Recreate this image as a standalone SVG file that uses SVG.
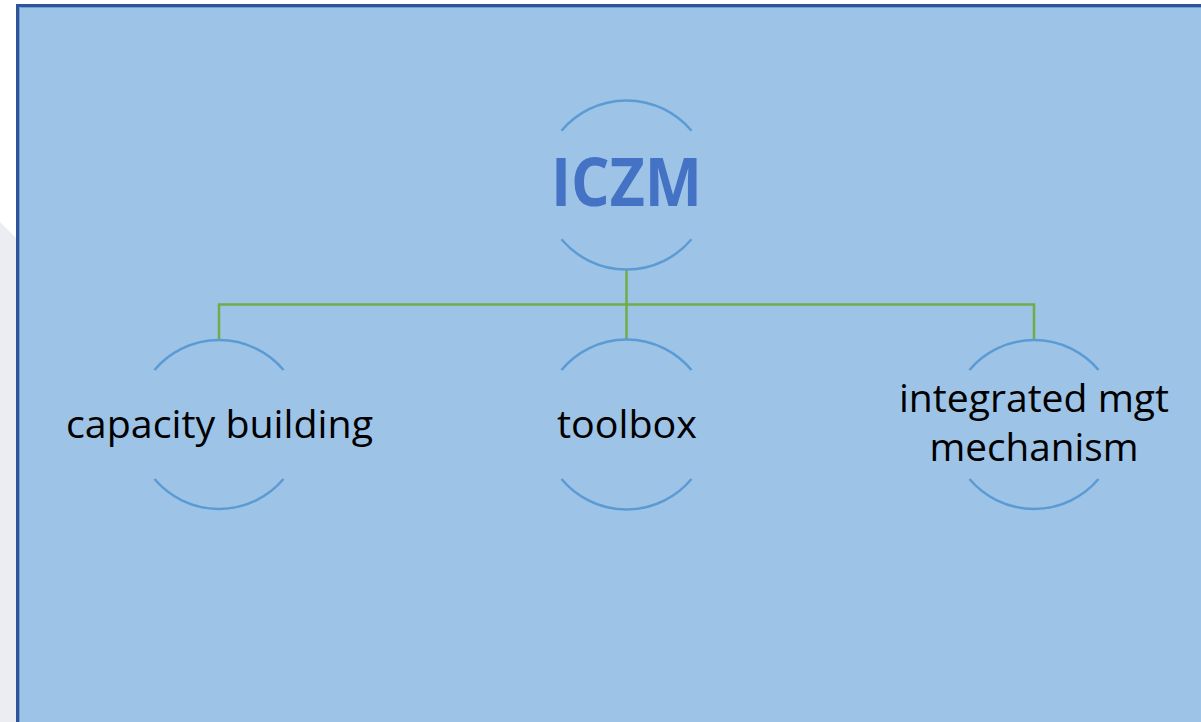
<svg xmlns="http://www.w3.org/2000/svg" width="1201" height="722" viewBox="0 0 1201 722">
<style>
.arc{fill:none;stroke:#5b9bd5;stroke-width:2.5}
.lbl{font-family:"Open Sans","Noto Sans",sans-serif;font-size:38px;fill:#000;text-anchor:middle}
.conn{fill:none;stroke:#70ad47;stroke-width:2.5}
</style>
<rect x="0" y="0" width="1201" height="722" fill="#ecedf2"/>
<polygon points="0,0 1201,0 1201,4 18,4 18,240 0,222" fill="#ffffff"/>
<rect x="17.5" y="5.5" width="1190" height="730" fill="#9dc3e6" stroke="#2f5597" stroke-width="3"/>
<rect x="19.5" y="7.5" width="1190" height="730" fill="none" stroke="#6f9fd8" stroke-width="1"/>
<g id="connectors">
<path class="conn" d="M626.5,270 V340 M219,340 V304.5 H1034 V340"/>
</g>
<g id="iczm">
<path class="arc" d="M561.5,130.7 A85,85 0 0 1 691.5,130.7 M561.5,239.3 A85,85 0 0 0 691.5,239.3"/>
<text x="626.5" y="206" font-family="Open Sans, Noto Sans, sans-serif" font-weight="bold" font-size="66" fill="#4472c4" text-anchor="middle" textLength="151" lengthAdjust="spacingAndGlyphs">ICZM</text>
</g>
<g id="capacity">
<path class="arc" d="M154.5,370 A84.5,84.5 0 0 1 283.5,370 M154.5,479 A84.5,84.5 0 0 0 283.5,479"/>
<text class="lbl" x="219.5" y="438" textLength="307" lengthAdjust="spacingAndGlyphs">capacity building</text>
</g>
<g id="toolbox">
<path class="arc" d="M561.5,370 A84.5,84.5 0 0 1 691.5,370 M561.5,479 A84.5,84.5 0 0 0 691.5,479"/>
<text class="lbl" x="627" y="438" textLength="140" lengthAdjust="spacingAndGlyphs">toolbox</text>
</g>
<g id="integrated">
<path class="arc" d="M969.5,370 A84.5,84.5 0 0 1 1098.5,370 M969.5,479 A84.5,84.5 0 0 0 1098.5,479"/>
<text class="lbl" x="1034" y="412" textLength="270" lengthAdjust="spacingAndGlyphs">integrated mgt</text>
<text class="lbl" x="1034" y="461" textLength="209" lengthAdjust="spacingAndGlyphs">mechanism</text>
</g>
</svg>
